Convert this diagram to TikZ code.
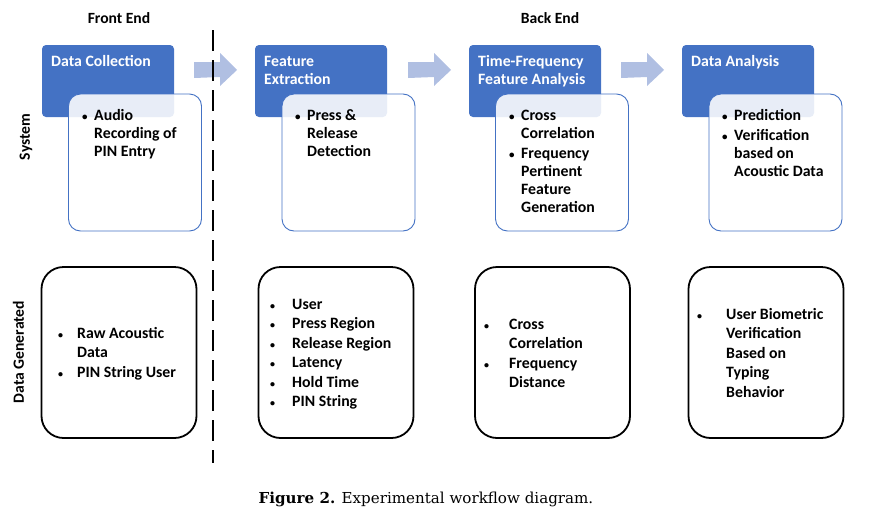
\documentclass[tikz,border=0pt]{standalone}
\usepackage{fontspec}
\newfontfamily\carl{Carlito}
\newfontfamily\capserif{DejaVu Serif}
\usepackage{array}
\usetikzlibrary{calc}
\definecolor{accent}{HTML}{4472C4}
\definecolor{arrowblue}{HTML}{B0BFE2}
\tikzset{
  bluebox/.style={fill=accent, draw=none, rounded corners=4pt, minimum width=132pt, minimum height=72pt, inner sep=0pt},
  whitebox/.style={fill=white, fill opacity=0.88, draw=accent, line width=0.9pt, rounded corners=12pt, minimum width=133pt, minimum height=137pt, inner sep=0pt},
  databox/.style={draw=black, line width=1.8pt, rounded corners=22pt, minimum width=155pt, minimum height=171pt, inner sep=0pt},
  ttl/.style={font=\carl\bfseries\fontsize{15.8}{18}\selectfont, text=white, anchor=base west, inner sep=0pt},
  itm/.style={font=\carl\bfseries\fontsize{15.8}{18}\selectfont, anchor=base west, inner sep=0pt},
  ditm/.style={font=\carl\bfseries\fontsize{15.8}{19.5}\selectfont, anchor=base west, inner sep=0pt},
  hdr/.style={font=\carl\bfseries\fontsize{15.6}{17}\selectfont, inner sep=0pt},
  blockarrow/.style={fill=arrowblue, draw=none},
  divider/.style={draw=black, line width=2.7pt, dash pattern=on 21pt off 9pt}
}
\newcommand{\tb}{{\fontsize{11}{11}\selectfont\textbullet}}
\newcommand{\sbul}{{\fontsize{10}{10}\selectfont\textbullet}}
\begin{document}
\begin{tikzpicture}[x=1pt,y=-1pt]
\path[use as bounding box] (0,0) rectangle (870,509);

% headers
\node[hdr] (fe) at (119,18) {Front End};
\node[hdr] (be) at (550,18) {Back End};
\node[hdr, rotate=90] (sys) at (26,137) {System};
\node[hdr, rotate=90] (dg) at (18.5,352) {Data Generated};

% blue title boxes
\node[bluebox] (b1) at (108,81) {};
\node[bluebox] (b2) at (321,81) {};
\node[bluebox] (b3) at (535,81) {};
\node[bluebox] (b4) at (748,81) {};

\node[ttl] (t1) at (51,66) {\begin{tabular}[t]{@{}l@{}}Data Collection\end{tabular}};
\node[ttl] (t2) at (264,66) {\begin{tabular}[t]{@{}l@{}}Feature\\Extraction\end{tabular}};
\node[ttl] (t3) at (478,66) {\begin{tabular}[t]{@{}l@{}}Time-Frequency\\Feature Analysis\end{tabular}};
\node[ttl] (t4) at (691,66) {\begin{tabular}[t]{@{}l@{}}Data Analysis\end{tabular}};

% white boxes
\node[whitebox] (w1) at (135,162.5) {};
\node[whitebox] (w2) at (348.5,162.5) {};
\node[whitebox] (w3) at (562,162.5) {};
\node[whitebox] (w4) at (775.5,162.5) {};

\node[itm] (i1) at (82,120) {\begin{tabular}[t]{@{}p{12pt}@{}l@{}}\tb&Audio\\&Recording of\\&PIN Entry\end{tabular}};
\node[itm] (i2) at (295,120) {\begin{tabular}[t]{@{}p{12pt}@{}l@{}}\tb&Press \&\\&Release\\&Detection\end{tabular}};
\node[itm] (i3) at (509,120) {\begin{tabular}[t]{@{}p{12pt}@{}l@{}}\tb&Cross\\&Correlation\\[2pt]\tb&Frequency\\&Pertinent\\&Feature\\&Generation\end{tabular}};
\node[itm] (i4) at (722,120) {\begin{tabular}[t]{@{}p{12pt}@{}l@{}}\tb&Prediction\\[2pt]\tb&Verification\\&based on\\&Acoustic Data\end{tabular}};

% block arrows
\coordinate (a1) at (194,70);
\coordinate (a2) at (408,70);
\coordinate (a3) at (621,70);
\foreach \a in {a1,a2,a3}{
  \fill[blockarrow] ($(\a)+(0,-8)$) -- ++(26,0) -- ++(0,-9) -- ($(\a)+(43,0)$) -- ($(\a)+(26,16)$) -- ++(0,-9) -- ($(\a)+(0,8)$) -- cycle;
}

% data boxes
\node[databox] (d1) at (119,352.5) {};
\node[databox] (d2) at (336,352.5) {};
\node[databox] (d3) at (552.5,352.5) {};
\node[databox] (d4) at (766,352.5) {};

\node[ditm] (k1) at (58,338) {\begin{tabular}[t]{@{}p{19pt}@{}l@{}}\sbul&Raw Acoustic\\&Data\\\sbul&PIN String User\end{tabular}};
\node[ditm] (k2) at (270,309) {\begin{tabular}[t]{@{}p{22pt}@{}l@{}}\sbul&User\\\sbul&Press Region\\\sbul&Release Region\\\sbul&Latency\\\sbul&Hold Time\\\sbul&PIN String\end{tabular}};
\node[ditm] (k3) at (484,329) {\begin{tabular}[t]{@{}p{25pt}@{}l@{}}\sbul&Cross\\&Correlation\\\sbul&Frequency\\&Distance\end{tabular}};
\node[ditm] (k4) at (697,319) {\begin{tabular}[t]{@{}p{29pt}@{}l@{}}\sbul&User Biometric\\&Verification\\&Based on\\&Typing\\&Behavior\end{tabular}};

% divider
\coordinate (dvtop) at (213,30);
\coordinate (dvbot) at (213,463);
\draw[divider] (dvtop) -- (dvbot);

% caption
\node[font=\capserif\fontsize{15.1}{17}\selectfont, anchor=base, inner sep=0pt] (cap) at (426,503) {\textbf{Figure 2.} Experimental workflow diagram.};
\end{tikzpicture}
\end{document}
